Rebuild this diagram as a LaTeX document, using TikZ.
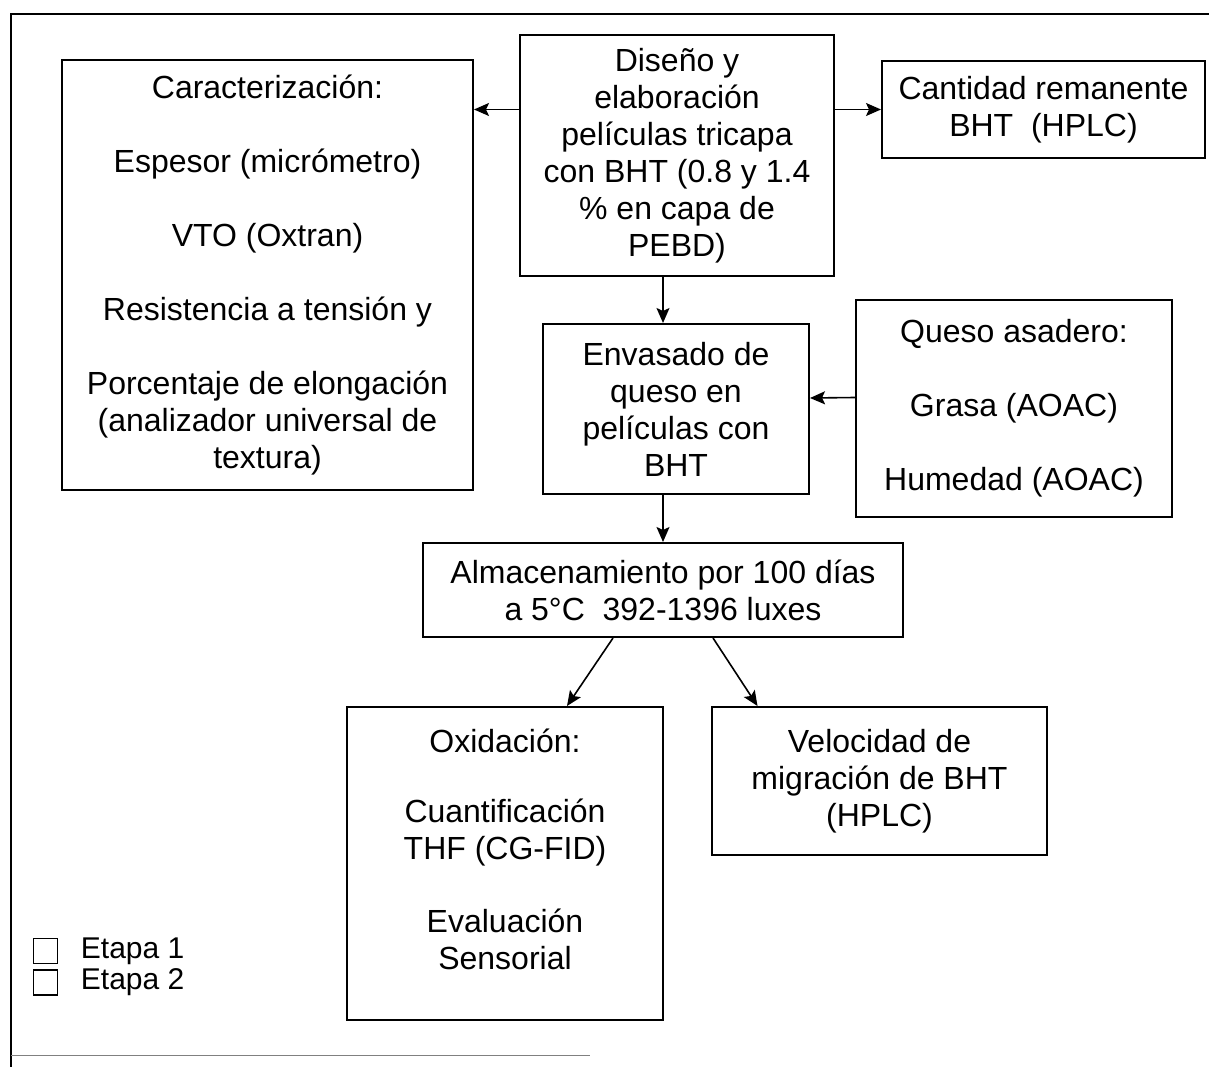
\documentclass[tikz,border=0pt]{standalone}
\usepackage{fontspec}
\setmainfont{Liberation Sans}
\usetikzlibrary{arrows.meta,positioning}

\begin{document}
\begin{tikzpicture}[x=1pt,y=-1pt,->,>={Stealth[length=15pt,width=13pt,inset=3pt]},line width=1.6pt]
        \tikzstyle{stage}=[draw=black,line width=2pt,align=center,inner sep=0pt,font=\fontsize{32}{37}\selectfont]
        \tikzstyle{legbox}=[draw=black,line width=1.2pt,minimum width=24pt,minimum height=25pt,inner sep=0pt]
        \tikzstyle{legtext}=[inner sep=0pt,font=\fontsize{30}{34}\selectfont]
        \useasboundingbox (0,0) rectangle (1209,1067);
        \draw[-,line width=2pt] (11,1067) -- (11,14) -- (1209,14);
        \draw[-,line width=1pt,gray] (11,1055) -- (590,1055);

        \node[stage,minimum width=411pt,minimum height=430pt] (Car) at (267.5,275)  {Caracterización:\\[37pt]Espesor (micrómetro)\\[37pt]VTO (Oxtran)\\[37pt]Resistencia a tensión y\\[37pt]Porcentaje de elongación\\(analizador universal de\\textura)};
        \node[stage,minimum width=314pt,minimum height=241pt] (Dis) at (677,155.5)  {Diseño y\\elaboración\\películas tricapa\\con BHT (0.8 y 1.4\\\% en capa de\\PEBD)};
        \node[stage,minimum width=323pt,minimum height=97pt]  (Can) at (1043.5,109.5) {Cantidad remanente\\BHT \ (HPLC)};
        \node[stage,minimum width=266pt,minimum height=170pt] (Env) at (676,409)    {Envasado de\\queso en\\películas con\\BHT};
        \node[stage,minimum width=316pt,minimum height=217pt] (Que) at (1014,408.5) {Queso asadero:\\[37pt]Grasa (AOAC)\\[37pt]Humedad (AOAC)};
        \node[stage,minimum width=480pt,minimum height=94pt]  (Alm) at (663,590)    {Almacenamiento por 100 días\\a 5°C \ 392-1396 luxes};
        \node[stage,minimum width=316pt,minimum height=313pt] (Oxi) at (505,863.5)  {Oxidación:\\[33pt]Cuantificación\\THF (CG-FID)\\[36pt]Evaluación\\Sensorial\\[-9pt]\mbox{}};
        \node[stage,minimum width=335pt,minimum height=148pt] (Vel) at (879.5,781)  {Velocidad de\\migración de BHT\\(HPLC)};

        \node[legbox] (leg1) at (45.5,951)   {};
        \node[legbox] (leg2) at (45.5,982.5) {};
        \node[legtext,right=22pt of leg1] (eta1) {Etapa 1};
        \node[legtext,right=22pt of leg2] (eta2) {Etapa 2};

        \draw (Dis.west |- Can.west) -- (Car.east |- Can.west);
        \draw (Dis.east |- Can.west) -- (Can.west);
        \draw (Dis.south -| Alm.north) -- (Env.north -| Alm.north);
        \draw ([yshift=11pt]Que.west) -- ([yshift=11pt]Env.east);
        \draw (Env.south -| Alm.north) -- (Alm.north);
        \draw ([xshift=-50pt]Alm.south) -- ([xshift=62pt]Oxi.north);
        \draw ([xshift=50pt]Alm.south)  -- ([xshift=-122pt]Vel.north);
\end{tikzpicture}
\end{document}
